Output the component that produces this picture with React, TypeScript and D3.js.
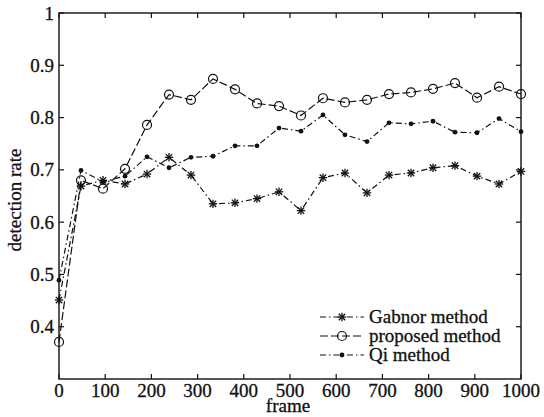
import React, { useEffect, useRef } from "react";
import * as d3 from "d3";

const frames: number[] = [0, 47.6, 95.2, 142.9, 190.5, 238.1, 285.7, 333.3, 381, 428.6, 476.2, 523.8, 571.4, 619, 666.7, 714.3, 761.9, 809.5, 857.1, 904.8, 952.4, 1000];
const gabnor: number[] = [0.451, 0.669, 0.68, 0.673, 0.692, 0.724, 0.69, 0.635, 0.637, 0.645, 0.658, 0.622, 0.685, 0.694, 0.656, 0.69, 0.694, 0.704, 0.708, 0.688, 0.673, 0.697];
const proposed: number[] = [0.371, 0.68, 0.664, 0.702, 0.786, 0.844, 0.834, 0.874, 0.854, 0.827, 0.822, 0.804, 0.837, 0.829, 0.834, 0.845, 0.848, 0.855, 0.866, 0.838, 0.859, 0.845];
const qi: number[] = [0.489, 0.699, 0.677, 0.688, 0.725, 0.704, 0.724, 0.726, 0.746, 0.746, 0.78, 0.774, 0.805, 0.767, 0.754, 0.79, 0.788, 0.793, 0.772, 0.771, 0.798, 0.773];
const seriesNames: string[] = ["Gabnor method", "proposed method", "Qi method"];
const xTicks: number[] = [0, 100, 200, 300, 400, 500, 600, 700, 800, 900, 1000];
const yTicks: number[] = [0.4, 0.5, 0.6, 0.7, 0.8, 0.9, 1];

const W = 544, H = 417;
const M = { left: 59, right: 23, top: 13, bottom: 38 };
const FONT = "'Liberation Serif', 'Times New Roman', serif";
const INK = "#111";
const FS = 19;

export default function App() {
  const ref = useRef<SVGSVGElement | null>(null);
  useEffect(() => {
    const svg = d3.select(ref.current);
    svg.selectAll("*").remove();
    const x = d3.scaleLinear().domain([0, 1000]).range([M.left, W - M.right]);
    const y = d3.scaleLinear().domain([0.3, 1]).range([H - M.bottom, M.top]);
    const g = svg.append("g");
    const x0 = x(0), x1 = x(1000), y0 = y(0.3), y1 = y(1);
    const txt = (sel: any) => sel.attr("font-family", FONT).attr("font-size", FS).attr("fill", INK)
      .attr("stroke", INK).attr("stroke-width", 0.3);

    g.append("rect").attr("x", x0).attr("y", y1).attr("width", x1 - x0).attr("height", y0 - y1)
      .attr("fill", "none").attr("stroke", INK).attr("stroke-width", 1.4);
    const tl = 5;
    xTicks.forEach((t) => {
      const px = x(t);
      g.append("line").attr("x1", px).attr("x2", px).attr("y1", y0).attr("y2", y0 - tl).attr("stroke", INK).attr("stroke-width", 1.2);
      g.append("line").attr("x1", px).attr("x2", px).attr("y1", y1).attr("y2", y1 + tl).attr("stroke", INK).attr("stroke-width", 1.2);
      g.append("text").attr("x", px).attr("y", 397).attr("text-anchor", "middle").call(txt).text(String(t));
    });
    yTicks.forEach((t) => {
      const py = y(t);
      g.append("line").attr("x1", x0).attr("x2", x0 + tl).attr("y1", py).attr("y2", py).attr("stroke", INK).attr("stroke-width", 1.2);
      g.append("line").attr("x1", x1).attr("x2", x1 - tl).attr("y1", py).attr("y2", py).attr("stroke", INK).attr("stroke-width", 1.2);
      g.append("text").attr("x", x0 - 5).attr("y", py + 6.5).attr("text-anchor", "end").call(txt).text(String(t));
    });
    g.append("text").attr("x", 288).attr("y", 412).attr("text-anchor", "middle").call(txt).text("frame");
    g.append("text").attr("transform", `translate(21, 200) rotate(-90)`)
      .attr("text-anchor", "middle").call(txt).text("detection rate");

    const line = d3.line<number>().x((_, i) => x(frames[i])).y((d) => y(d));
    const styles = [
      { data: gabnor, dash: "6,3,1.5,3", marker: "star" },
      { data: proposed, dash: "8,3", marker: "circle" },
      { data: qi, dash: "6,3,1.5,3", marker: "dot" },
    ];
    const drawMarker = (sel: any, kind: string, cx: number, cy: number) => {
      if (kind === "circle") {
        sel.append("circle").attr("cx", cx).attr("cy", cy).attr("r", 4.5).attr("fill", "none").attr("stroke", INK).attr("stroke-width", 1.2);
      } else if (kind === "dot") {
        sel.append("circle").attr("cx", cx).attr("cy", cy).attr("r", 2.4).attr("fill", INK);
      } else {
        const s = 4.2, d = 3.2;
        const segs = [[-s, 0, s, 0], [0, -s, 0, s], [-d, -d, d, d], [-d, d, d, -d]];
        segs.forEach((q) => sel.append("line").attr("x1", cx + q[0]).attr("y1", cy + q[1]).attr("x2", cx + q[2]).attr("y2", cy + q[3]).attr("stroke", INK).attr("stroke-width", 1.3));
      }
    };
    styles.forEach((s) => {
      g.append("path").attr("d", line(s.data) as string).attr("fill", "none").attr("stroke", INK)
        .attr("stroke-width", 1.2).attr("stroke-dasharray", s.dash);
      s.data.forEach((v, i) => drawMarker(g, s.marker, x(frames[i]), y(v)));
    });

    const lx0 = 320, lx1 = 364, tx = 369;
    const ly = [317, 336, 355];
    styles.forEach((s, i) => {
      g.append("line").attr("x1", lx0).attr("x2", lx1).attr("y1", ly[i]).attr("y2", ly[i]).attr("stroke", INK)
        .attr("stroke-width", 1.2).attr("stroke-dasharray", s.dash);
      drawMarker(g, s.marker, (lx0 + lx1) / 2, ly[i]);
      g.append("text").attr("x", tx).attr("y", ly[i] + 6).call(txt).text(seriesNames[i]);
    });
  }, []);
  return (
    <svg ref={ref} width={W} height={H} style={{ position: "absolute", left: 0, top: 0, background: "#fff" }} />
  );
}
